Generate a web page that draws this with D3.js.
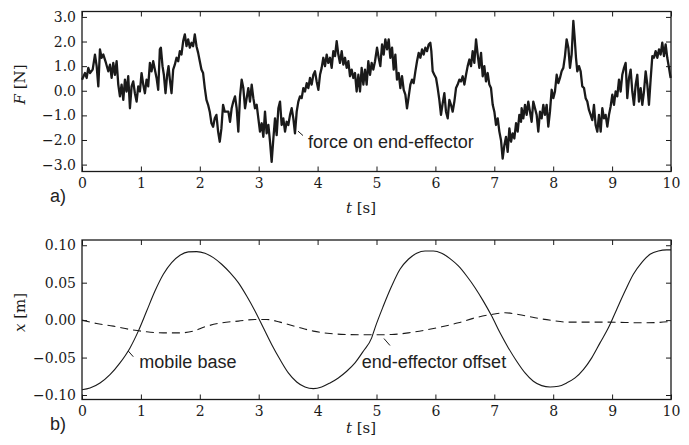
<!DOCTYPE html>
<html>
<head>
<meta charset="utf-8">
<title>Force on end-effector and base position</title>
<style>
  body { margin: 0; background: #fff; }
  svg { display: block; }
  .tick text { font-family: "DejaVu Serif", serif; font-size: 14px; fill: #1a1a1a; }
  .tick line { stroke: #1a1a1a; stroke-width: 1; }
  .domain { display: none; }
  .note { font-family: "Liberation Sans", Arial, sans-serif; font-size: 18px; fill: #222; }
  .axlabel { font-family: "DejaVu Serif", serif; font-size: 15px; fill: #1a1a1a; }
</style>
</head>
<body>
<svg id="chart" width="689" height="445"></svg>
<script src="https://d3js.org/d3.v7.min.js"></script>
<script>
// ---- data ----
const tTicks = [0, 1, 2, 3, 4, 5, 6, 7, 8, 9, 10];
const fTicks = [-3, -2, -1, 0, 1, 2, 3];
const xTicks = [-0.10, -0.05, 0, 0.05, 0.10];

// force on end-effector, [t (s), F (N)]
const forcePts = [
  [0.000,0.45],[0.051,0.72],[0.079,0.52],[0.107,0.93],[0.136,0.72],[0.181,0.86],[0.220,1.47],[0.249,1.00],
  [0.277,0.18],[0.305,1.68],[0.333,1.34],[0.362,1.47],[0.407,1.13],[0.446,0.79],[0.475,1.06],[0.503,0.52],
  [0.531,1.13],[0.559,0.65],[0.588,1.20],[0.616,0.25],[0.644,-0.23],[0.672,0.25],[0.701,-0.37],[0.729,0.45],
  [0.757,-0.03],[0.785,0.59],[0.814,-0.71],[0.842,0.18],[0.870,0.38],[0.898,-0.10],[0.927,-0.44],[0.955,0.18],
  [0.983,-0.03],[1.011,0.72],[1.040,0.25],[1.068,-0.10],[1.096,0.45],[1.124,0.18],[1.153,1.13],[1.181,0.79],
  [1.209,1.20],[1.237,0.86],[1.266,0.52],[1.294,0.04],[1.322,1.68],[1.339,1.75],[1.367,1.00],[1.390,0.65],
  [1.418,-0.10],[1.446,0.65],[1.469,1.00],[1.492,0.45],[1.520,-0.10],[1.548,0.86],[1.576,1.06],[1.605,1.34],
  [1.633,1.20],[1.661,1.61],[1.689,1.47],[1.718,2.02],[1.746,2.29],[1.774,1.81],[1.802,2.09],[1.831,1.75],
  [1.859,1.95],[1.887,1.81],[1.915,2.29],[1.944,1.81],[1.972,1.54],[2.000,1.20],[2.028,0.86],[2.056,0.72],
  [2.085,0.11],[2.113,-0.37],[2.141,-0.57],[2.169,-0.85],[2.198,-1.32],[2.226,-1.46],[2.254,-1.12],[2.282,-0.98],
  [2.311,-1.66],[2.339,-2.07],[2.367,-1.53],[2.395,-0.57],[2.424,-0.85],
  [2.485,-0.85],[2.513,-1.26],[2.541,-0.71],[2.569,-0.44],[2.598,-0.23],[2.626,-0.71],[2.654,-1.66],[2.683,-0.23],
  [2.711,0.45],[2.739,0.11],[2.768,-0.71],[2.796,-0.30],[2.824,0.11],[2.852,-0.44],[2.881,0.25],[2.909,-0.30],
  [2.937,-0.71],[2.966,-0.57],[2.994,-1.12],[3.022,-1.66],[3.051,-1.32],[3.079,-1.87],[3.107,-0.85],[3.135,-1.73],
  [3.164,-1.39],[3.192,-2.07],[3.220,-2.89],[3.249,-1.94],[3.277,-1.12],[3.305,-1.80],[3.334,-0.71],[3.362,-0.44],
  [3.390,-1.39],[3.418,-1.12],[3.447,-1.66],[3.475,-1.26],[3.503,-1.39],[3.532,-0.98],[3.560,-0.71],[3.588,-1.12],
  [3.616,-1.73],[3.645,-0.85],[3.673,-0.44],[3.701,-0.23],[3.730,-0.30],[3.758,0.11],[3.786,-0.03],[3.815,0.31],
  [3.843,0.11],[3.871,0.52],[3.899,0.25],[3.928,0.65],[3.956,0.79],[3.984,0.38],[4.013,0.04],[4.041,0.65],
  [4.069,0.93],[4.097,1.34],[4.126,1.00],[4.154,1.47],[4.182,1.13],[4.211,1.34],[4.239,0.93],[4.267,1.61],
  [4.296,1.41],[4.324,2.02],[4.352,1.47],[4.380,1.13],[4.409,1.61],[4.437,1.06],[4.465,1.34],[4.494,0.93],
  [4.522,1.20],[4.550,0.59],[4.578,0.86],[4.607,0.52],[4.635,0.72],[4.663,-0.03],[4.692,0.65],[4.720,-0.03],
  [4.748,0.93],[4.777,0.25],[4.805,0.86],[4.833,0.25],[4.861,1.20],[4.890,0.65],[4.918,1.13],[4.946,0.86],
  [4.975,1.20],
  [5.009,1.75],[5.037,1.34],[5.065,1.00],[5.094,1.88],[5.122,1.47],[5.150,2.09],[5.179,1.68],[5.207,2.09],
  [5.235,1.34],[5.264,1.75],[5.292,0.86],[5.320,1.47],[5.348,0.45],[5.377,0.72],[5.405,0.11],[5.433,0.59],
  [5.462,0.04],[5.490,-0.16],[5.518,-0.71],[5.547,-0.23],[5.575,0.25],[5.603,0.45],[5.631,0.31],[5.660,0.79],
  [5.688,1.20],[5.716,1.54],[5.745,1.34],[5.773,1.68],[5.801,1.47],[5.829,1.75],[5.858,1.61],[5.886,1.88],
  [5.914,1.95],[5.931,1.61],[5.954,0.79],[5.982,0.65],[6.011,0.52],[6.039,0.11],[6.067,-0.37],[6.095,-0.98],
  [6.124,-0.50],[6.152,-0.10],[6.180,-0.85],[6.209,-1.12],[6.237,-0.37],[6.265,-0.57],[6.293,-0.85],[6.322,-0.44],
  [6.350,0.11],[6.378,0.25],[6.407,0.45],[6.435,0.38],[6.463,0.59],[6.492,0.25],[6.520,0.65],[6.548,1.00],
  [6.577,1.27],[6.605,1.00],[6.633,1.61],[6.661,1.13],[6.690,2.09],[6.718,1.47],[6.746,0.93],[6.775,1.54],
  [6.803,0.59],[6.831,1.00],[6.859,0.38],[6.888,0.72],[6.916,0.25],[6.944,0.11],[6.973,-0.57],[7.001,-0.85],
  [7.029,-1.39],[7.058,-1.12],[7.086,-1.66],[7.114,-2.01],[7.142,-2.76],[7.171,-2.21],[7.199,-1.87],[7.227,-2.48],
  [7.256,-1.53],[7.284,-2.07],[7.312,-1.73],[7.340,-1.94],[7.369,-1.32],[7.397,-1.66],[7.425,-0.98],[7.454,-1.26],
  [7.464,-0.71],[7.493,-1.12],[7.521,-0.57],[7.549,-0.98],[7.577,-0.44],[7.606,-0.85],[7.634,-1.26],[7.662,-0.44],
  [7.691,-0.71],[7.719,-0.98],[7.747,-1.66],[7.776,-0.85],[7.804,-1.12],[7.832,-0.57],[7.860,-0.98],[7.889,-0.57],
  [7.917,-1.46],[7.945,-0.85],[7.974,0.04],[8.002,-0.30],[8.030,-0.03],[8.059,0.65],[8.087,0.31],[8.115,0.52],
  [8.143,0.79],[8.172,0.93],[8.200,1.41],[8.228,2.09],[8.257,1.75],[8.285,0.93],[8.313,1.47],[8.342,2.84],
  [8.364,2.16],[8.387,1.34],[8.409,0.79],[8.438,1.00],[8.466,0.79],[8.494,0.18],[8.523,0.11],[8.551,-0.30],
  [8.579,-0.44],[8.607,-0.78],[8.636,-0.98],[8.664,-1.19],[8.692,-0.57],[8.720,-1.39],[8.749,-1.66],[8.777,-0.98],
  [8.806,-1.66],[8.834,-0.71],[8.862,-1.12],[8.890,-0.98],[8.919,-1.46],[8.947,-0.98],[8.975,-0.64],[9.004,-0.16],
  [9.032,-0.57],[9.060,-0.03],[9.088,-0.23],[9.117,0.45],[9.145,-0.03],[9.173,0.65],[9.202,0.93],[9.230,1.13],
  [9.258,-0.30],[9.287,0.52],[9.315,0.86],[9.343,-0.03],[9.371,-0.57],[9.400,0.25],[9.428,0.65],[9.456,-0.44],
  [9.485,0.11],[9.513,-0.57],[9.541,-0.03],[9.570,0.79],[9.598,0.25],[9.626,-0.57],[9.654,0.45],[9.683,1.41],
  [9.711,1.34],[9.739,1.61],[9.768,1.34],[9.796,1.68],[9.824,1.47],[9.852,1.95],[9.881,1.41],[9.909,1.88],
  [9.937,1.34],[9.966,0.93],[9.994,0.52]
];

// mobile base position, [t (s), x (m)]
const basePts = [
  [0.000,-0.0929],[0.136,-0.0906],[0.306,-0.0839],[0.475,-0.0728],[0.645,-0.0571],[0.815,-0.0371],
  [0.956,-0.0147],[1.098,0.0121],[1.239,0.0388],[1.381,0.0612],[1.522,0.0768],[1.664,0.0866],
  [1.805,0.0911],[1.947,0.0915],[2.088,0.0893],[2.230,0.0835],[2.371,0.0746],[2.513,0.0634],
  [2.654,0.0500],[2.796,0.0321],[2.937,0.0121],[3.079,-0.0103],[3.220,-0.0326],[3.362,-0.0527],
  [3.503,-0.0705],[3.645,-0.0826],[3.786,-0.0893],[3.928,-0.0915],[4.069,-0.0893],[4.211,-0.0839],
  [4.352,-0.0772],[4.494,-0.0683],[4.635,-0.0571],[4.776,-0.0415],[4.918,-0.0237],[4.975,-0.0103],
  [5.116,0.0188],[5.258,0.0455],[5.399,0.0679],[5.541,0.0813],[5.682,0.0893],[5.824,0.0924],
  [5.965,0.0924],[6.107,0.0893],[6.248,0.0821],[6.390,0.0723],[6.531,0.0589],[6.673,0.0433],
  [6.814,0.0254],[6.956,0.0054],[7.097,-0.0170],[7.239,-0.0371],[7.380,-0.0549],[7.522,-0.0705],
  [7.663,-0.0817],[7.805,-0.0875],[7.946,-0.0893],[8.088,-0.0884],[8.229,-0.0839],[8.371,-0.0772],
  [8.512,-0.0661],[8.654,-0.0504],[8.795,-0.0304],[8.937,-0.0103],[9.078,0.0143],[9.220,0.0388],
  [9.361,0.0612],[9.502,0.0768],[9.644,0.0879],[9.785,0.0924],[9.927,0.0938],[10.000,0.0938]
];

// end-effector offset, [t (s), x (m)]
const offsetPts = [
  [0.000,0.0000],[0.249,-0.0045],[0.532,-0.0080],[0.815,-0.0125],[1.098,-0.0156],[1.381,-0.0170],
  [1.664,-0.0170],[1.890,-0.0147],[2.088,-0.0089],[2.371,-0.0036],[2.654,-0.0013],[2.937,0.0009],
  [3.135,0.0009],[3.362,-0.0027],[3.645,-0.0089],[3.928,-0.0147],[4.211,-0.0179],[4.494,-0.0192],
  [4.776,-0.0196],[4.975,-0.0196],[5.258,-0.0192],[5.541,-0.0170],[5.824,-0.0134],[6.107,-0.0089],
  [6.390,-0.0036],[6.673,0.0031],[6.956,0.0076],[7.182,0.0098],[7.408,0.0076],[7.691,0.0031],
  [7.974,-0.0004],[8.257,-0.0027],[8.540,-0.0027],[8.937,-0.0027],[9.220,-0.0031],[9.502,-0.0036],
  [9.785,-0.0031],[10.000,-0.0018]
];

// annotations: text anchor point and leader line, in data units
const forceNote  = { text: "force on end-effector", at: [3.837, -2.33], lead: [[3.667, -1.64], [3.752, -1.82]] };
const baseNote   = { text: "mobile base",          at: [0.974, -0.064], lead: [[0.786, -0.0413], [0.871, -0.0489]] };
const offsetNote = { text: "end-effector offset",  at: [4.749, -0.0633], lead: [[5.127, -0.0246], [5.229, -0.0339]] };

// ---- layout ----
const svg = d3.select("#chart");
const left = 82, right = 671;
const ink = "#1a1a1a";

const x = d3.scaleLinear().domain([0, 10]).range([left, right]);
const yF = d3.scaleLinear().domain([-3.28, 3.22]).range([171.5, 11.5]);
const yX = d3.scaleLinear().domain([-0.106, 0.107]).range([399.5, 240]);

function drawFrame(y, ticks, fmt) {
  const [bot, top] = y.range();
  const g = svg.append("g");
  g.append("g").attr("transform", `translate(0,${bot})`)
    .call(d3.axisBottom(x).tickValues(tTicks).tickFormat(d3.format("d")).tickSize(-5).tickPadding(7));
  g.append("g").attr("transform", `translate(0,${top})`)
    .call(d3.axisTop(x).tickValues(tTicks).tickFormat("").tickSize(-5));
  g.append("g").attr("transform", `translate(${left},0)`)
    .call(d3.axisLeft(y).tickValues(ticks).tickFormat(fmt).tickSize(-5).tickPadding(6));
  g.append("g").attr("transform", `translate(${right},0)`)
    .call(d3.axisRight(y).tickValues(ticks).tickFormat("").tickSize(-5));
  g.append("rect")
    .attr("x", left).attr("y", top)
    .attr("width", right - left).attr("height", bot - top)
    .attr("fill", "none").attr("stroke", ink).attr("stroke-width", 1.3);
}

function note(n, y) {
  svg.append("line")
    .attr("x1", x(n.lead[0][0])).attr("y1", y(n.lead[0][1]))
    .attr("x2", x(n.lead[1][0])).attr("y2", y(n.lead[1][1]))
    .attr("stroke", ink).attr("stroke-width", 1);
  svg.append("text").attr("class", "note")
    .attr("x", x(n.at[0])).attr("y", y(n.at[1]))
    .text(n.text);
}

function axisLabel(xp, yp, v, unit, rotate) {
  const t = svg.append("text").attr("class", "axlabel")
    .attr("text-anchor", "middle")
    .attr("transform", `translate(${xp},${yp})` + (rotate ? " rotate(-90)" : ""));
  t.append("tspan").attr("font-style", "italic").text(v);
  t.append("tspan").text(" " + unit);
}

// ---- panel a: force ----
svg.append("path")
  .datum(forcePts)
  .attr("fill", "none")
  .attr("stroke", ink)
  .attr("stroke-width", 2.3)
  .attr("stroke-linejoin", "round")
  .attr("d", d3.line().x(d => x(d[0])).y(d => yF(d[1])));

drawFrame(yF, fTicks, d3.format(".1f"));
note(forceNote, yF);
axisLabel(25, 84.5, "F", "[N]", true);
axisLabel(361, 213, "t", "[s]", false);
svg.append("text").attr("class", "note").attr("x", 50).attr("y", 202).text("a)");

// ---- panel b: positions ----
const posLine = d3.line().curve(d3.curveMonotoneX).x(d => x(d[0])).y(d => yX(d[1]));

svg.append("path")
  .datum(basePts)
  .attr("fill", "none").attr("stroke", ink).attr("stroke-width", 1.1)
  .attr("d", posLine);

svg.append("path")
  .datum(offsetPts)
  .attr("fill", "none").attr("stroke", ink).attr("stroke-width", 1.1)
  .attr("stroke-dasharray", "8,5")
  .attr("d", posLine);

drawFrame(yX, xTicks, d3.format(".2f"));
note(baseNote, yX);
note(offsetNote, yX);
axisLabel(25, 312.5, "x", "[m]", true);
axisLabel(361, 433, "t", "[s]", false);
svg.append("text").attr("class", "note").attr("x", 50).attr("y", 430).text("b)");
</script>
</body>
</html>
